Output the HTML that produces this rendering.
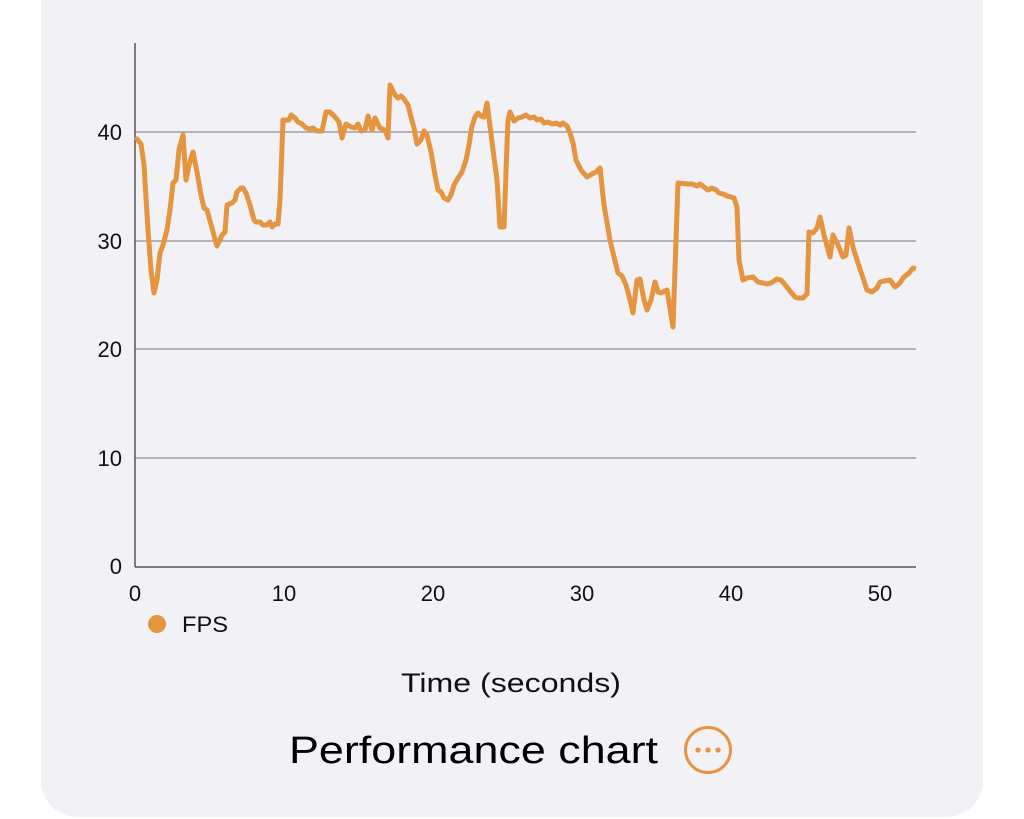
<!DOCTYPE html>
<html><head><meta charset="utf-8"><style>
html,body{margin:0;padding:0;background:#fff;}
body{width:1024px;height:819px;position:relative;overflow:hidden;font-family:"Liberation Sans",sans-serif;}
.card{position:absolute;left:41px;top:-40px;width:942px;height:857px;background:#f2f1f6;border-radius:36px;}
</style></head><body>
<div class="card"></div>
<svg width="1024" height="819" style="position:absolute;left:0;top:0" font-family="Liberation Sans, sans-serif">
<g stroke="#8e8e93" stroke-width="1.3">
<line x1="135" y1="132" x2="916" y2="132"/>
<line x1="135" y1="241" x2="916" y2="241"/>
<line x1="135" y1="349" x2="916" y2="349"/>
<line x1="135" y1="458" x2="916" y2="458"/>
</g>
<g stroke="#555" stroke-width="1.5">
<line x1="135" y1="43" x2="135" y2="567"/>
<line x1="135" y1="567" x2="916" y2="567"/>
</g>
<g font-size="22" fill="#111" text-anchor="end">
<text x="122" y="140">40</text>
<text x="122" y="249">30</text>
<text x="122" y="357">20</text>
<text x="122" y="466">10</text>
<text x="122" y="574">0</text>
</g>
<g font-size="22" fill="#111" text-anchor="middle">
<text x="135" y="601">0</text>
<text x="284" y="601">10</text>
<text x="433" y="601">20</text>
<text x="582" y="601">30</text>
<text x="731" y="601">40</text>
<text x="880" y="601">50</text>
</g>
<polyline fill="none" stroke="#e5943f" stroke-width="5" stroke-linejoin="round" points="135,140 137,139 141,144 144,165 148,230 151,270 154,293 157,280 160,253 163,245 167,230 170,210 173,183 176,180 179,150 183,135 186,180 189,165 193,152 197,172 201,195 204,208 207,210 212,228 216,243 217,246 222,235 225,232 227,205 232,203 235,200 237,192 241,188 243,188 246,193 250,205 254,220 256,222 260,222 263,225 267,225 270,222 272,227 275,224 278,224 280,200 283,120 285,120 289,120 291,115 295,118 298,122 302,124 306,128 310,129 313,128 317,131 322,131 326,112 330,112 335,117 339,122 342,138 346,124 351,127 355,128 358,124 361,131 365,130 368,116 372,130 375,118 380,128 385,130 388,138 390,85 395,95 398,98 401,96 404,99 408,105 411,117 414,128 417,144 421,140 424,131 427,135 431,152 435,175 438,190 441,192 444,198 448,200 451,195 454,185 458,178 462,172 466,160 469,145 472,126 475,117 478,113 481,116 484,117 487,103 489,118 493,150 497,180 500,227 504,227 507,145 508,120 510,112 514,121 518,118 522,117 526,115 530,118 534,117 537,120 541,119 544,123 548,122 552,124 556,123 560,125 563,123 567,126 570,133 573,143 576,160 581,170 587,177 592,174 596,172 600,168 604,205 610,240 614,257 618,273 622,276 626,285 630,300 633,313 637,280 640,279 644,300 647,310 651,300 655,282 658,292 661,293 667,290 673,327 678,183 688,184 692,184 697,186 700,184 704,187 708,190 712,188 716,190 719,193 723,194 727,196 731,197 734,198 737,207 739,260 743,280 747,278 753,277 758,282 763,283 767,284 771,283 777,279 781,280 787,287 790,291 795,297 798,298 803,298 807,294 809,232 813,233 817,228 820,217 824,235 830,257 833,235 838,245 843,257 846,255 849,228 853,247 857,260 862,275 867,290 872,292 877,288 880,282 884,281 890,280 895,287 899,284 904,277 909,273 913,268 916,269"/>
<circle cx="157" cy="624" r="9" fill="#e5943f"/>
<text x="182" y="632" font-size="22" fill="#111" textLength="46" lengthAdjust="spacingAndGlyphs">FPS</text>
<text x="401" y="692" font-size="27" fill="#111" textLength="220" lengthAdjust="spacingAndGlyphs">Time (seconds)</text>
<text x="289" y="763" font-size="38" fill="#000" textLength="369" lengthAdjust="spacingAndGlyphs">Performance chart</text>
<circle cx="708" cy="750" r="22.5" fill="none" stroke="#e5943f" stroke-width="3"/>
<circle cx="698" cy="750" r="2.6" fill="#e5943f"/>
<circle cx="708" cy="750" r="2.6" fill="#e5943f"/>
<circle cx="718" cy="750" r="2.6" fill="#e5943f"/>
</svg>
</body></html>
